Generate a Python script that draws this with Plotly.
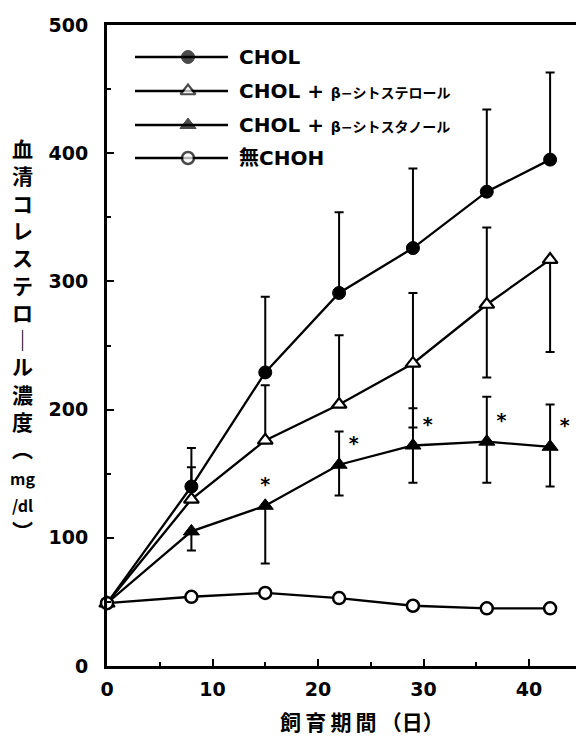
import plotly.graph_objects as go

# ---------------- data ----------------
days = [0, 8, 15, 22, 29, 36, 42]

chol = [49, 140, 229, 291, 326, 370, 395]
chol_err_up = [0, 30, 59, 63, 62, 64, 68]
chol_err_down = [0, 0, 0, 0, 0, 0, 0]

sterol = [49, 130, 176, 204, 236, 282, 317]
sterol_err_up = [0, 25, 43, 54, 55, 60, 0]
sterol_err_down = [0, 0, 0, 0, 50, 57, 72]

stanol = [49, 105, 125, 157, 172, 175, 171]
stanol_err_up = [0, 0, 0, 26, 29, 35, 33]
stanol_err_down = [0, 15, 45, 24, 29, 32, 31]
stanol_sig = ["", "", "*", "*", "*", "*", "*"]

no_choh = [49, 54, 57, 53, 47, 45, 45]

series_names = [
    "CHOL",
    "CHOL + <span style=\"font-size:14px\">β−シトステロール</span>",
    "CHOL + <span style=\"font-size:14px\">β−シトスタノール</span>",
    "無CHOH",
]
x_ticks = [0, 10, 20, 30, 40]
y_ticks = [0, 100, 200, 300, 400, 500]
x_title = "飼\u2009育\u2009期\u2009間\u2009（日）"
y_title_parts = ["血", "清", "コ", "レ", "ス", "テ", "ロ", "｜", "ル", "濃", "度", "︵",
                 "<span style=\"font-size:16px\">mg</span>",
                 "<span style=\"font-size:16px\">/dl</span>", "︶"]

# ---------------- styling ----------------
LAT = "DejaVu Sans, Noto Sans CJK JP, sans-serif"
CJK = "Noto Sans CJK JP, DejaVu Sans, sans-serif"
W, H = 576, 738
L, R, T, B = 107, 0, 25, 72
PW, PH = W - L - R, H - T - B


def px(x):
    return (x - L) / PW


def py(y):
    return (H - B - y) / PH


styles = [
    dict(symbol="circle", size=13, color="black", line=dict(color="black", width=1)),
    dict(symbol="triangle-up", size=13, color="white", line=dict(color="black", width=2.2)),
    dict(symbol="triangle-up", size=14, color="black", line=dict(color="black", width=1)),
    dict(symbol="circle", size=12, color="white", line=dict(color="black", width=2.5)),
]

fig = go.Figure()


def err(up, down):
    return dict(type="data", symmetric=False, array=up, arrayminus=down,
                color="black", thickness=2, width=4.5)


fig.add_trace(go.Scatter(x=days, y=chol, mode="lines+markers",
                         line=dict(color="black", width=2.3), marker=styles[0],
                         error_y=err(chol_err_up, chol_err_down), cliponaxis=False,
                         showlegend=False))
fig.add_trace(go.Scatter(x=days, y=sterol, mode="lines+markers",
                         line=dict(color="black", width=2.3), marker=styles[1],
                         error_y=err(sterol_err_up, sterol_err_down), cliponaxis=False,
                         showlegend=False))
fig.add_trace(go.Scatter(x=days, y=stanol, mode="lines+markers+text",
                         line=dict(color="black", width=2.3), marker=styles[2],
                         error_y=err(stanol_err_up, stanol_err_down),
                         text=stanol_sig,
                         textposition=["top center"] * 3 + ["top right"] * 4,
                         textfont=dict(family=LAT, size=19, color="black", weight="bold"),
                         cliponaxis=False, showlegend=False))
fig.add_trace(go.Scatter(x=days, y=no_choh, mode="lines+markers",
                         line=dict(color="black", width=2.3), marker=styles[3],
                         cliponaxis=False, showlegend=False))

# ---------------- hand-made legend (page-pixel overlay axes) ----------------
leg_rows = [57, 91, 125, 158]
leg_x0, leg_xm, leg_x1, leg_tx = 135, 188, 228, 237
for i, name in enumerate(series_names):
    yy = leg_rows[i]
    st = dict(styles[i])
    fig.add_trace(go.Scatter(x=[leg_x0, leg_xm, leg_x1], y=[yy, yy, yy],
                             xaxis="x2", yaxis="y2", mode="lines+markers",
                             line=dict(color="black", width=2.3),
                             marker=dict(st, size=[0, st["size"], 0]),
                             cliponaxis=False, showlegend=False, hoverinfo="skip"))
    fig.add_annotation(x=px(leg_tx), y=py(yy), xref="paper", yref="paper", text=name,
                       showarrow=False, xanchor="left", yanchor="middle",
                       font=dict(family=LAT, size=20, color="black", weight="bold"))

# axis titles
fig.add_annotation(x=px(22), y=py(339), xref="paper", yref="paper",
                   text="<br>".join(y_title_parts),
                   showarrow=False, xanchor="center", yanchor="middle",
                   font=dict(family=CJK, size=21, color="black", weight="bold"))
fig.add_annotation(x=px(362), y=py(721), xref="paper", yref="paper", text=x_title,
                   showarrow=False, xanchor="center", yanchor="middle", borderpad=0,
                   font=dict(family=CJK, size=21, color="black", weight="bold"))

axis_common = dict(showline=True, linewidth=3, linecolor="black", showgrid=False,
                   zeroline=False, ticks="inside", tickwidth=2, tickcolor="black",
                   tickfont=dict(family=LAT, size=19, color="black", weight="bold"))

fig.update_layout(
    width=W, height=H, margin=dict(l=L, r=R, t=T, b=B),
    paper_bgcolor="white", plot_bgcolor="white",
    xaxis=dict(axis_common, range=[0, PW / 10.55], tickvals=x_ticks, ticklen=7,
               mirror=True, ticklabelstandoff=4,
               minor=dict(ticks="inside", ticklen=4, dtick=5, tick0=0, tickwidth=2,
                          tickcolor="black", showgrid=False)),
    yaxis=dict(axis_common, range=[0, 500], tickvals=y_ticks, ticklen=7,
               ticklabelstandoff=12,
               minor=dict(ticks="inside", ticklen=4, dtick=50, tick0=0, tickwidth=2,
                          tickcolor="black", showgrid=False)),
    xaxis2=dict(overlaying="x", range=[L, W - R], visible=False, fixedrange=True),
    yaxis2=dict(overlaying="y", range=[H - B, T], visible=False, fixedrange=True),
    showlegend=False,
)

fig.write_html("out.html")
